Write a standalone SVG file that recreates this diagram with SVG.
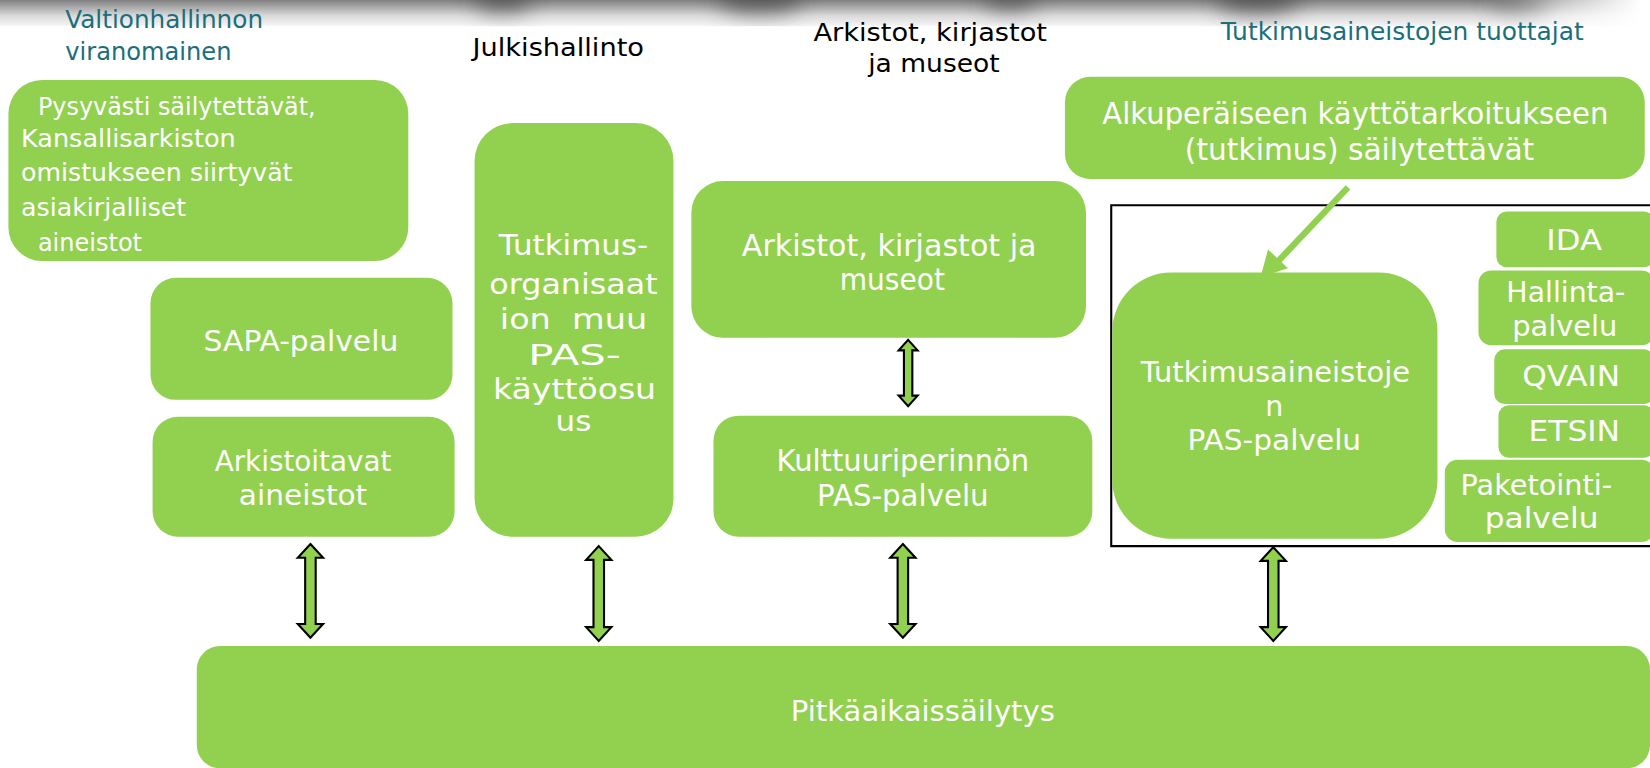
<svg xmlns="http://www.w3.org/2000/svg" width="1650" height="768" viewBox="0 0 1650 768">
<style>
.box{fill:#92d050}
.t{font-family:"DejaVu Sans","Liberation Sans",sans-serif;fill:#ffffff;text-anchor:middle}
.tl{font-family:"DejaVu Sans","Liberation Sans",sans-serif;fill:#ffffff}
.h{font-family:"DejaVu Sans","Liberation Sans",sans-serif;font-size:24px}
.teal{fill:#1b6e7c}
.blk{fill:#000000}
.dbl{fill:#92d050;stroke:#000000;stroke-width:2;stroke-linejoin:miter}
</style>
<defs>
<linearGradient id="band" x1="0" y1="0" x2="0" y2="1">
<stop offset="0" stop-color="#808080"/>
<stop offset="0.6" stop-color="#dadada"/>
<stop offset="1" stop-color="#f6f6f6"/>
</linearGradient>
<linearGradient id="bandH" x1="0" y1="0" x2="1" y2="0">
<stop offset="0" stop-color="#fff" stop-opacity="1"/>
<stop offset="0.9" stop-color="#fff" stop-opacity="1"/>
<stop offset="1" stop-color="#fff" stop-opacity="0"/>
</linearGradient>
<mask id="bandMask"><rect x="0" y="0" width="1560" height="25" fill="url(#bandH)"/></mask>
<filter id="blur" x="-50%" y="-100%" width="200%" height="300%"><feGaussianBlur stdDeviation="10"/></filter>
</defs>
<rect width="1650" height="768" fill="#ffffff"/>
<g id="diagram" transform="scale(1.05230)">
<g id="topband" mask="url(#bandMask)">
<rect x="0" y="0" width="1560" height="25" fill="url(#band)"/>
<g filter="url(#blur)" fill="#3a3a3a" opacity="0.6">
<ellipse cx="478" cy="0" rx="28" ry="12"/>
<ellipse cx="722" cy="0" rx="40" ry="14"/>
<ellipse cx="960" cy="0" rx="26" ry="10"/>
<ellipse cx="1195" cy="0" rx="40" ry="14"/>
<ellipse cx="1445" cy="0" rx="30" ry="12"/>
</g>
</g>

<g id="headers">
<text class="h teal" x="62" y="27" textLength="188" lengthAdjust="spacingAndGlyphs">Valtionhallinnon</text>
<text class="h teal" x="62" y="57" textLength="158" lengthAdjust="spacingAndGlyphs">viranomainen</text>
<text class="h blk" x="449" y="53" textLength="163" lengthAdjust="spacingAndGlyphs">Julkishallinto</text>
<text class="h blk" x="773" y="39" textLength="222" lengthAdjust="spacingAndGlyphs">Arkistot, kirjastot</text>
<text class="h blk" x="825" y="68" textLength="125" lengthAdjust="spacingAndGlyphs">ja museot</text>
<text class="h teal" x="1160" y="38" textLength="345" lengthAdjust="spacingAndGlyphs">Tutkimusaineistojen tuottajat</text>
</g>

<g id="frame">
<path d="M1570,195 L1056,195 L1056,519 L1570,519" fill="none" stroke="#000" stroke-width="2"/>
</g>

<g id="n-pysyvasti">
<rect class="box" x="8" y="76" width="380" height="172" rx="32"/>
<text class="tl" font-size="24" x="36" y="109" textLength="264" lengthAdjust="spacingAndGlyphs">Pysyvästi säilytettävät,</text>
<text class="tl" font-size="24" x="20" y="140" textLength="204" lengthAdjust="spacingAndGlyphs">Kansallisarkiston</text>
<text class="tl" font-size="24" x="20" y="172" textLength="258" lengthAdjust="spacingAndGlyphs">omistukseen siirtyvät</text>
<text class="tl" font-size="24" x="20" y="205" textLength="157" lengthAdjust="spacingAndGlyphs">asiakirjalliset</text>
<text class="tl" font-size="24" x="36" y="239" textLength="99" lengthAdjust="spacingAndGlyphs">aineistot</text>
</g>

<g id="n-sapa">
<rect class="box" x="143" y="264" width="287" height="116" rx="24"/>
<text class="t" font-size="27" x="286" y="334" textLength="185" lengthAdjust="spacingAndGlyphs">SAPA-palvelu</text>
</g>

<g id="n-arkistoitavat">
<rect class="box" x="145" y="396" width="287" height="114" rx="24"/>
<text class="t" font-size="27" x="288" y="448" textLength="168" lengthAdjust="spacingAndGlyphs">Arkistoitavat</text>
<text class="t" font-size="27" x="288" y="480" textLength="122" lengthAdjust="spacingAndGlyphs">aineistot</text>
</g>

<g id="n-tutkimusorg">
<rect class="box" x="451" y="117" width="189" height="393" rx="36"/>
<text class="t" font-size="27" x="545" y="242" textLength="142" lengthAdjust="spacingAndGlyphs">Tutkimus-</text>
<text class="t" font-size="27" x="545" y="279" textLength="160" lengthAdjust="spacingAndGlyphs">organisaat</text>
<text class="t" font-size="27" x="545" y="313" textLength="140" lengthAdjust="spacingAndGlyphs" xml:space="preserve">ion  muu</text>
<text class="t" font-size="27" x="546" y="347" textLength="88" lengthAdjust="spacingAndGlyphs">PAS-</text>
<text class="t" font-size="27" x="546" y="379" textLength="155" lengthAdjust="spacingAndGlyphs">käyttöosu</text>
<text class="t" font-size="27" x="545" y="410" textLength="34" lengthAdjust="spacingAndGlyphs">us</text>
</g>

<g id="n-arkistot">
<rect class="box" x="657" y="172" width="375" height="149" rx="30"/>
<text class="t" font-size="28" x="845" y="243" textLength="280" lengthAdjust="spacingAndGlyphs">Arkistot, kirjastot ja</text>
<text class="t" font-size="28" x="848" y="276" textLength="100" lengthAdjust="spacingAndGlyphs">museot</text>
</g>

<g id="n-kulttuuri">
<rect class="box" x="678" y="395" width="360" height="115" rx="24"/>
<text class="t" font-size="28" x="858" y="448" textLength="240" lengthAdjust="spacingAndGlyphs">Kulttuuriperinnön</text>
<text class="t" font-size="28" x="858" y="481" textLength="163" lengthAdjust="spacingAndGlyphs">PAS-palvelu</text>
</g>

<g id="n-alkuperainen">
<rect class="box" x="1012" y="73" width="551" height="97" rx="24"/>
<text class="t" font-size="28" x="1288" y="118" textLength="481" lengthAdjust="spacingAndGlyphs">Alkuperäiseen käyttötarkoitukseen</text>
<text class="t" font-size="28" x="1292" y="152" textLength="332" lengthAdjust="spacingAndGlyphs">(tutkimus) säilytettävät</text>
</g>

<g id="n-tutkpas">
<rect class="box" x="1057" y="259" width="309" height="253" rx="56"/>
<text class="t" font-size="27" x="1212" y="363" textLength="256" lengthAdjust="spacingAndGlyphs">Tutkimusaineistoje</text>
<text class="t" font-size="27" x="1211" y="395">n</text>
<text class="t" font-size="27" x="1211" y="428" textLength="165" lengthAdjust="spacingAndGlyphs">PAS-palvelu</text>
</g>

<g id="n-ida">
<rect class="box" x="1422" y="201" width="150" height="53" rx="10"/>
<text class="t" font-size="27" x="1496" y="238" textLength="53" lengthAdjust="spacingAndGlyphs">IDA</text>
</g>
<g id="n-hallinta">
<rect class="box" x="1405" y="257" width="167" height="71" rx="12"/>
<text class="t" font-size="27" x="1488" y="287" textLength="113" lengthAdjust="spacingAndGlyphs">Hallinta-</text>
<text class="t" font-size="27" x="1487" y="319" textLength="100" lengthAdjust="spacingAndGlyphs">palvelu</text>
</g>
<g id="n-qvain">
<rect class="box" x="1420" y="332" width="152" height="52" rx="10"/>
<text class="t" font-size="27" x="1493" y="367" textLength="93" lengthAdjust="spacingAndGlyphs">QVAIN</text>
</g>
<g id="n-etsin">
<rect class="box" x="1424" y="385" width="148" height="50" rx="10"/>
<text class="t" font-size="27" x="1496" y="419" textLength="87" lengthAdjust="spacingAndGlyphs">ETSIN</text>
</g>
<g id="n-paketointi">
<rect class="box" x="1373" y="437" width="199" height="78" rx="12"/>
<text class="t" font-size="27" x="1460" y="470" textLength="144" lengthAdjust="spacingAndGlyphs">Paketointi-</text>
<text class="t" font-size="27" x="1465" y="502" textLength="108" lengthAdjust="spacingAndGlyphs">palvelu</text>
</g>

<g id="n-pitkaaikais">
<rect class="box" x="187" y="614" width="1381" height="116" rx="22"/>
<text class="t" font-size="27" x="877" y="685" textLength="251" lengthAdjust="spacingAndGlyphs">Pitkäaikaissäilytys</text>
</g>

<g id="connectors">
<path class="dbl" d="M295,517 L307,530 L300,530 L300,593 L307,593 L295,606 L283,593 L290,593 L290,530 L283,530 Z"/>
<path class="dbl" d="M569,519 L581,532 L574,532 L574,596 L581,596 L569,609 L557,596 L564,596 L564,532 L557,532 Z"/>
<path class="dbl" d="M858,517 L870,530 L863,530 L863,593 L870,593 L858,606 L846,593 L853,593 L853,530 L846,530 Z"/>
<path class="dbl" d="M1210,520 L1222,533 L1215,533 L1215,596 L1222,596 L1210,609 L1198,596 L1205,596 L1205,533 L1198,533 Z"/>
<path class="dbl" d="M863,323 L872,333 L867,333 L867,376 L872,376 L863,386 L854,376 L859,376 L859,333 L854,333 Z"/>
<line x1="1281" y1="178" x2="1212" y2="251" stroke="#92d050" stroke-width="6"/>
<polygon points="1198,263 1205,237 1224,255" fill="#92d050"/>
</g>
</g>
</svg>
